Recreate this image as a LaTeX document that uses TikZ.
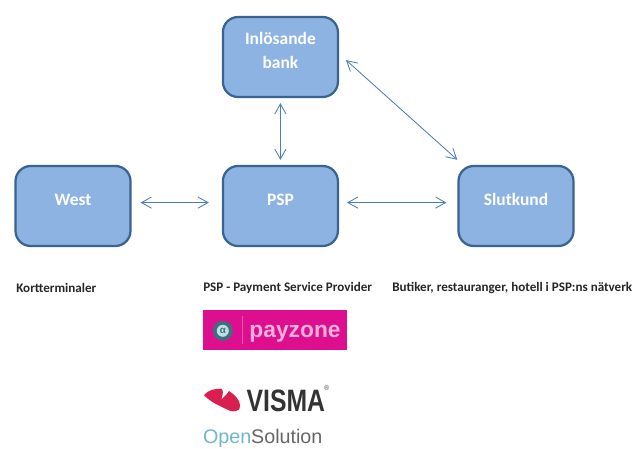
\documentclass[tikz,border=0pt]{standalone}
\usepackage{fontspec}
\setmainfont{Carlito}
\newfontfamily\logofont{Liberation Sans}
\usetikzlibrary{arrows.meta}
\definecolor{boxblue}{HTML}{8DB3E2}
\definecolor{boxedge}{HTML}{3A6391}
\definecolor{linkblue}{HTML}{4A7EBB}
\definecolor{paymagenta}{HTML}{DE0F8E}
\definecolor{paypink}{HTML}{F6AEDB}
\definecolor{paycircle}{HTML}{3F6F78}
\definecolor{vismared}{HTML}{D81F50}
\definecolor{opencyan}{HTML}{6DB8CC}
\begin{document}
\begin{tikzpicture}[
    >={Straight Barb[length=.25cm,width=.28cm]},
    box/.style={draw=boxedge, fill=boxblue, line width=1.6pt, rounded corners=.38cm, minimum width=2.875cm, minimum height=2cm, align=center, text=white, font=\fontsize{12.4}{16.5}\selectfont\bfseries},
    link/.style={<->, draw=linkblue, line width=.6pt},
    caption/.style={anchor=west, inner sep=0pt, text=black!85, font=\fontsize{9.3}{11}\selectfont\bfseries}
]
\useasboundingbox (0,0) rectangle (16.025,11.2);

% ---- Boxes ----
\node[box] (bank) at (7.01, 9.775) {Inlösande\\bank\\[-.25cm]};
\node[box] (west) at (1.825, 6.05) {West\\[-.25cm]};
\node[box] (psp) at (7.01, 6.05) {PSP\\[-.25cm]};
\node[box] (slutkund) at (12.9, 6.05) {Slutkund\\[-.25cm]};

% ---- Arrows ----
\draw[link, shorten <=.225cm, shorten >=.325cm] ([yshift=.085cm]west.east) -- ([yshift=.085cm]psp.west);
\draw[link, shorten <=.2cm, shorten >=.275cm] ([yshift=.085cm]psp.east) -- ([yshift=.085cm]slutkund.west);
\draw[link, shorten <=.125cm, shorten >=.125cm] (bank.south) -- (psp.north);
\draw[link, shorten <=.235cm, shorten >=.19cm] ([yshift=.08cm]bank.east) -- ([xshift=.14cm]slutkund.north west);

% ---- Captions ----
\node[caption] (kort) at (0.4, 4) {Kortterminaler};
\node[caption] (pspname) at (5.075, 4) {PSP - Payment Service Provider};
\node[caption] (butiker) at (9.8, 4) {Butiker, restauranger, hotell i PSP:ns nätverk};

% ---- Logos ----
\node[fill=paymagenta, minimum width=3.6cm, minimum height=.975cm, inner sep=0pt] (payzone) at (6.875, 2.95) {};
\draw[paypink!45!paymagenta, line width=.5pt] ([xshift=1.0cm,yshift=-.15cm]payzone.north west) -- ([xshift=1.0cm,yshift=.15cm]payzone.south west);
\node[circle, fill=paycircle, minimum size=.5cm, inner sep=0pt] (paymark) at (5.57, 2.93) {};
\node[circle, fill=opencyan!45, minimum size=.3cm, inner sep=0pt, text=paycircle, font=\logofont\fontsize{7}{7}\selectfont\bfseries] (paydot) at (paymark) {α};
\node[anchor=west, inner sep=0pt, text=paypink, font=\logofont\fontsize{16.2}{16.2}\selectfont\bfseries] (payname) at (6.23, 2.85) {payzone};

\fill[vismared] (5.1,1.325) .. controls (5.2,1.45) and (5.4,1.5) .. (5.55,1.475)
    .. controls (5.6,1.38) and (5.55,1.28) .. (5.525,1.2)
    .. controls (5.6,1.28) and (5.68,1.35) .. (5.725,1.425)
    .. controls (5.85,1.35) and (6.0,1.2) .. (6.0,1.075)
    .. controls (6.0,.95) and (5.95,.93) .. (5.9,.925)
    .. controls (5.8,.9) and (5.75,.93) .. (5.65,.975)
    .. controls (5.5,1.05) and (5.25,1.15) .. (5.1,1.325) -- cycle;
\node[anchor=west, inner sep=0pt, text=black!80, font=\logofont\fontsize{22}{22}\selectfont\bfseries, xscale=.8] (visma) at (6.16, 1.18) {VISMA};
\node[inner sep=0pt, text=black!70, font=\logofont\fontsize{5}{5}\selectfont] (vismareg) at (8.17, 1.5) {®};
\node[anchor=west, inner sep=0pt, font=\logofont\fontsize{14}{14}\selectfont, text=black!60] (opensol) at (5.07, .24) {\textcolor{opencyan}{Open}Solution};

\end{tikzpicture}
\end{document}
